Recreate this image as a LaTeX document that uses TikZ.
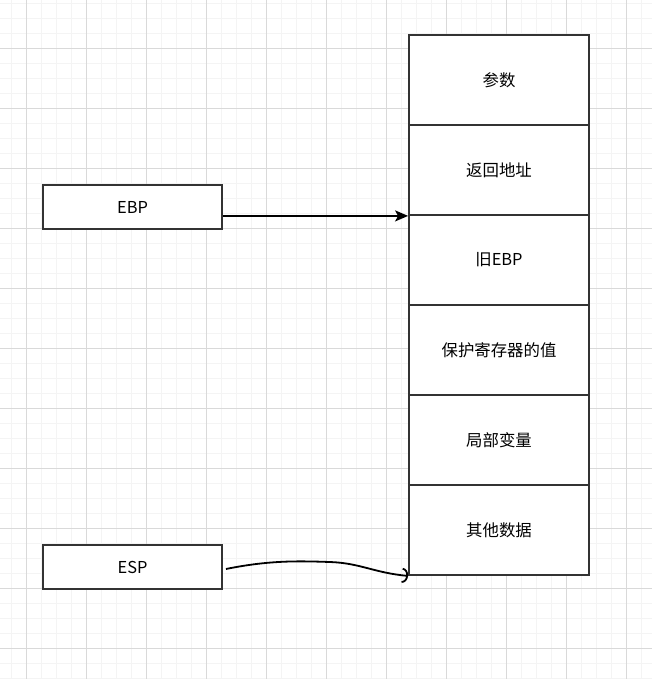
\documentclass[tikz,border=0pt]{standalone}
\usepackage{fontspec}
\setmainfont{Noto Sans CJK SC}
\usetikzlibrary{arrows.meta}
\definecolor{minorgrid}{HTML}{F4F4F4}
\definecolor{majorgrid}{HTML}{D9D9D9}
\definecolor{edge}{HTML}{333333}
\begin{document}
\begin{tikzpicture}[x=0.75pt,y=-0.75pt,
  cell/.style={draw=edge,line width=1.8pt*0.75,minimum width=180*0.75pt,minimum height=90*0.75pt,inner sep=0pt,font=\fontsize{12.3pt}{14pt}\selectfont,fill=white},
  reg/.style={draw=edge,line width=1.8pt*0.75,minimum width=179*0.75pt,minimum height=44*0.75pt,inner sep=0pt,font=\fontsize{12.3pt}{14pt}\selectfont,fill=white},
  conn/.style={line width=1.8pt*0.75,black}]
\useasboundingbox (0,0) rectangle (652,679);
\fill[white] (0,0) rectangle (652,679);
% grid
\foreach \x in {11,26,...,652} \draw[minorgrid,line width=0.75pt] (\x,0) -- (\x,679);
\foreach \y in {3,18,...,679} \draw[minorgrid,line width=0.75pt] (0,\y) -- (652,\y);
\foreach \x in {26,86,...,652} \draw[majorgrid,line width=0.75pt] (\x,0) -- (\x,679);
\foreach \y in {48,108,...,679} \draw[majorgrid,line width=0.75pt] (0,\y) -- (652,\y);
% stack
\node[cell] (c1) at (499,80) {参数};
\node[cell] (c2) at (499,170) {返回地址};
\node[cell] (c3) at (499,260) {旧EBP};
\node[cell] (c4) at (499,350) {保护寄存器的值};
\node[cell] (c5) at (499,440) {局部变量};
\node[cell] (c6) at (499,530) {其他数据};
% registers
\node[reg] (ebp) at (132.5,207) {EBP};
\node[reg] (esp) at (132.5,567) {ESP};
% connectors
\draw[conn,-{Stealth[length=13*0.75pt,width=11*0.75pt,inset=3*0.75pt]}] (ebp.east |- c2.south) -- (c2.south west);
\draw[conn,-{Arc Barb[length=6*0.75pt,width=15*0.75pt]}] (226,569) .. controls (270,560) and (300,561) .. (330,562) .. controls (360,563) and (375,573) .. (c6.south west);
\end{tikzpicture}
\end{document}
